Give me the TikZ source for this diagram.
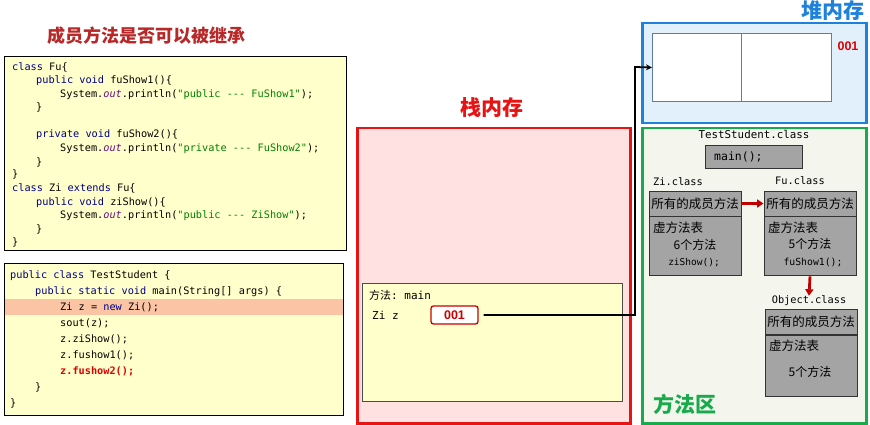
\documentclass[tikz,border=0pt]{standalone}
\usepackage{fontspec}
\setmonofont{DejaVu Sans Mono}
\setsansfont{Liberation Sans}
\newfontfamily\cjk{Noto Sans CJK SC}
\usetikzlibrary{arrows.meta}
\definecolor{kwblue}{RGB}{0,0,128}
\definecolor{strgreen}{RGB}{0,128,0}
\definecolor{outpurple}{RGB}{102,14,122}
\definecolor{codered}{RGB}{225,0,0}
\definecolor{codebg}{RGB}{255,255,204}
\definecolor{hlband}{RGB}{251,196,164}
\definecolor{titlered}{RGB}{185,40,40}
\definecolor{stackred}{RGB}{230,20,20}
\definecolor{stackbg}{RGB}{255,225,225}
\definecolor{refred}{RGB}{200,0,0}
\definecolor{heapblue}{RGB}{30,130,220}
\definecolor{heapbg}{RGB}{226,240,252}
\definecolor{cellblue}{RGB}{90,125,175}
\definecolor{methgreen}{RGB}{25,170,75}
\definecolor{methbg}{RGB}{244,246,238}
\definecolor{grayfill}{RGB}{164,164,164}
\definecolor{arrowred}{RGB}{192,0,0}
\newcommand\kwd[1]{\textcolor{kwblue}{#1}}
\newcommand\jstr[1]{\textcolor{strgreen}{#1}}
\newcommand\jout{\textcolor{outpurple}{\textit{out}}}
\begin{document}
\begin{tikzpicture}[x=1pt,y=-1pt,
  codeln/.style={anchor=base west, inner sep=0pt, font=\ttfamily\fontsize{10.25}{12}\selectfont},
  monolbl/.style={inner sep=0pt, font=\ttfamily\fontsize{10.3}{12}\selectfont},
  cjklbl/.style={inner sep=0pt, font=\cjk\fontsize{12}{12}\selectfont},
  codebox/.style={draw=black, line width=0.9pt, fill=codebg, anchor=north west, inner sep=0pt},
  area/.style={line width=2.5pt, anchor=north west, inner sep=0pt},
  grayhead/.style={draw=black!80, line width=0.9pt, fill=grayfill, minimum width=92, minimum height=25, inner sep=0pt, font=\cjk\fontsize{12.5}{12.5}\selectfont},
  graybody/.style={draw=black!80, line width=0.9pt, fill=grayfill, minimum width=92, anchor=north, inner sep=0pt},
  redarrow/.style={draw=arrowred, line width=2.8pt, -{Triangle[length=6.5pt,width=8pt]}},
  bigtitle/.style={inner sep=0pt, font=\cjk\bfseries\fontsize{21}{21}\selectfont}
]
\useasboundingbox (0,0) rectangle (870,425);
\fill[white] (0,0) rectangle (870,425);

% title
\node[inner sep=0pt, text=titlered, font=\cjk\bfseries\fontsize{18}{18}\selectfont] (title) at (146,36) {成员方法是否可以被继承};

% code box 1
\node[codebox, minimum width=342, minimum height=194] (box1) at (4,56) {};
\node[codeln] (a1) at (12,70.5) {\kwd{class} Fu\{};
\node[codeln] (a2) at (36,84) {\kwd{public void} fuShow1()\{};
\node[codeln] (a3) at (60,97.5) {System.\jout.println(\jstr{"public --- FuShow1"});};
\node[codeln] (a4) at (36,111) {\}};
\node[codeln] (a6) at (36,138) {\kwd{private void} fuShow2()\{};
\node[codeln] (a7) at (60,151.5) {System.\jout.println(\jstr{"private --- FuShow2"});};
\node[codeln] (a8) at (36,165) {\}};
\node[codeln] (a9) at (12,178) {\}};
\node[codeln] (a10) at (12,191.5) {\kwd{class} Zi \kwd{extends} Fu\{};
\node[codeln] (a11) at (36,205) {\kwd{public void} ziShow()\{};
\node[codeln] (a12) at (60,218.5) {System.\jout.println(\jstr{"public --- ZiShow"});};
\node[codeln] (a13) at (36,232) {\}};
\node[codeln] (a14) at (12,245) {\}};

% code box 2
\node[codebox, minimum width=339, minimum height=152] (box2) at (4,263) {};
\node[fill=hlband, anchor=north west, minimum width=338, minimum height=16, inner sep=0pt] (hl) at (4.5,299) {};
\node[codeln] (b1) at (10,278.5) {\kwd{public class} TestStudent \{};
\node[codeln] (b2) at (35,294.5) {\kwd{public static void} main(String[] args) \{};
\node[codeln] (b3) at (60,310.5) {Zi z = \kwd{new} Zi();};
\node[codeln] (b4) at (60,326.5) {sout(z);};
\node[codeln] (b5) at (60,342.5) {z.ziShow();};
\node[codeln] (b6) at (60,358.5) {z.fushow1();};
\node[codeln, text=codered, font=\ttfamily\bfseries\fontsize{10.25}{12}\selectfont] (b7) at (60,374.5) {z.fushow2();};
\node[codeln] (b8) at (35,390.5) {\}};
\node[codeln] (b9) at (10,406.5) {\}};

% stack
\node[bigtitle, text=stackred] (stacktitle) at (492,108) {栈内存};
\node[area, draw=stackred, fill=stackbg, minimum width=273, minimum height=295] (stack) at (356,127) {};
\node[draw=black!70, line width=0.8pt, fill=codebg, anchor=north west, minimum width=260, minimum height=118, inner sep=0pt] (frame) at (362,283) {};
\node[anchor=west, inner sep=0pt] (fname) at (369,295) {{\cjk\fontsize{11}{11}\selectfont 方法}{\ttfamily\fontsize{11}{11}\selectfont: main}};
\node[anchor=west, inner sep=0pt, font=\ttfamily\fontsize{11}{11}\selectfont] (ziz) at (372,315) {Zi z};
\node[draw=refred, line width=1.3pt, rounded corners=2.5pt, fill=white, minimum width=47, minimum height=18, inner sep=0pt, text=refred, font=\sffamily\bfseries\fontsize{12.5}{12.5}\selectfont] (ref) at (454.5,315) {001};

% heap
\node[bigtitle, text=heapblue] (heaptitle) at (833,11) {堆内存};
\node[area, draw=heapblue, fill=heapbg, minimum width=224, minimum height=100] (heap) at (641,22) {};
\node[draw=cellblue, line width=1pt, fill=white, anchor=north west, minimum width=89, minimum height=68, inner sep=0pt] (cell1) at (652,33) {};
\node[draw=cellblue, line width=1pt, fill=white, anchor=north west, minimum width=90, minimum height=68, inner sep=0pt] (cell2) at (741,33) {};
\node[inner sep=0pt, text=codered, font=\sffamily\bfseries\fontsize{12.5}{12.5}\selectfont] (heapaddr) at (848,46) {001};

% method area
\node[area, draw=methgreen, fill=methbg, minimum width=224, minimum height=295] (meth) at (641,127) {};
\node[monolbl, font=\ttfamily\fontsize{10.8}{12}\selectfont] (tslbl) at (754,134) {TestStudent.class};
\node[draw=black!80, line width=0.9pt, fill=grayfill, anchor=north west, minimum width=97, minimum height=23, inner sep=0pt] (mainbox) at (705,145) {};
\node[anchor=west, inner sep=0pt, font=\ttfamily\fontsize{11.5}{12}\selectfont] (maintxt) at (714,157) {main();};

\node[monolbl, anchor=west] (zilbl) at (653,182) {Zi.class};
\node[grayhead] (zihead) at (695,203.5) {所有的成员方法};
\node[graybody, minimum height=59] (zibody) at (zihead.south) {};
\node[cjklbl, anchor=west, font=\cjk\fontsize{12.5}{12.5}\selectfont] (zivt) at (653,228) {虚方法表};
\node[cjklbl] (zin) at (695,245) {6个方法};
\node[monolbl, font=\ttfamily\fontsize{9.5}{12}\selectfont] (zim) at (694,263) {ziShow();};

\node[monolbl, anchor=west] (fulbl) at (775,181) {Fu.class};
\node[grayhead] (fuhead) at (810,203.5) {所有的成员方法};
\node[graybody, minimum height=59] (fubody) at (fuhead.south) {};
\node[cjklbl, anchor=west, font=\cjk\fontsize{12.5}{12.5}\selectfont] (fuvt) at (768,228) {虚方法表};
\node[cjklbl] (fun) at (810,244) {5个方法};
\node[monolbl, font=\ttfamily\fontsize{9.8}{12}\selectfont] (fum) at (813,262) {fuShow1();};

\node[monolbl] (objlbl) at (809,301) {Object.class};
\node[grayhead] (objhead) at (811,322) {所有的成员方法};
\node[graybody, minimum height=61] (objbody) at (objhead.south) {};
\node[cjklbl, anchor=west, font=\cjk\fontsize{12.5}{12.5}\selectfont] (objvt) at (769,346) {虚方法表};
\node[cjklbl] (objn) at (810,372) {5个方法};

\node[bigtitle, text=methgreen] (methtitle) at (685,404) {方法区};

% connectors
\coordinate (bend) at (635,67);
\draw[black, line width=1.8pt, shorten <=5pt, -{Stealth[length=6pt,width=6pt]}] (ref.east) -| (bend) -- (cell1.west);
\draw[redarrow] (zihead.east) -- (fuhead.west);
\draw[redarrow] (fubody.south) -- (objlbl.north);
\end{tikzpicture}
\end{document}
